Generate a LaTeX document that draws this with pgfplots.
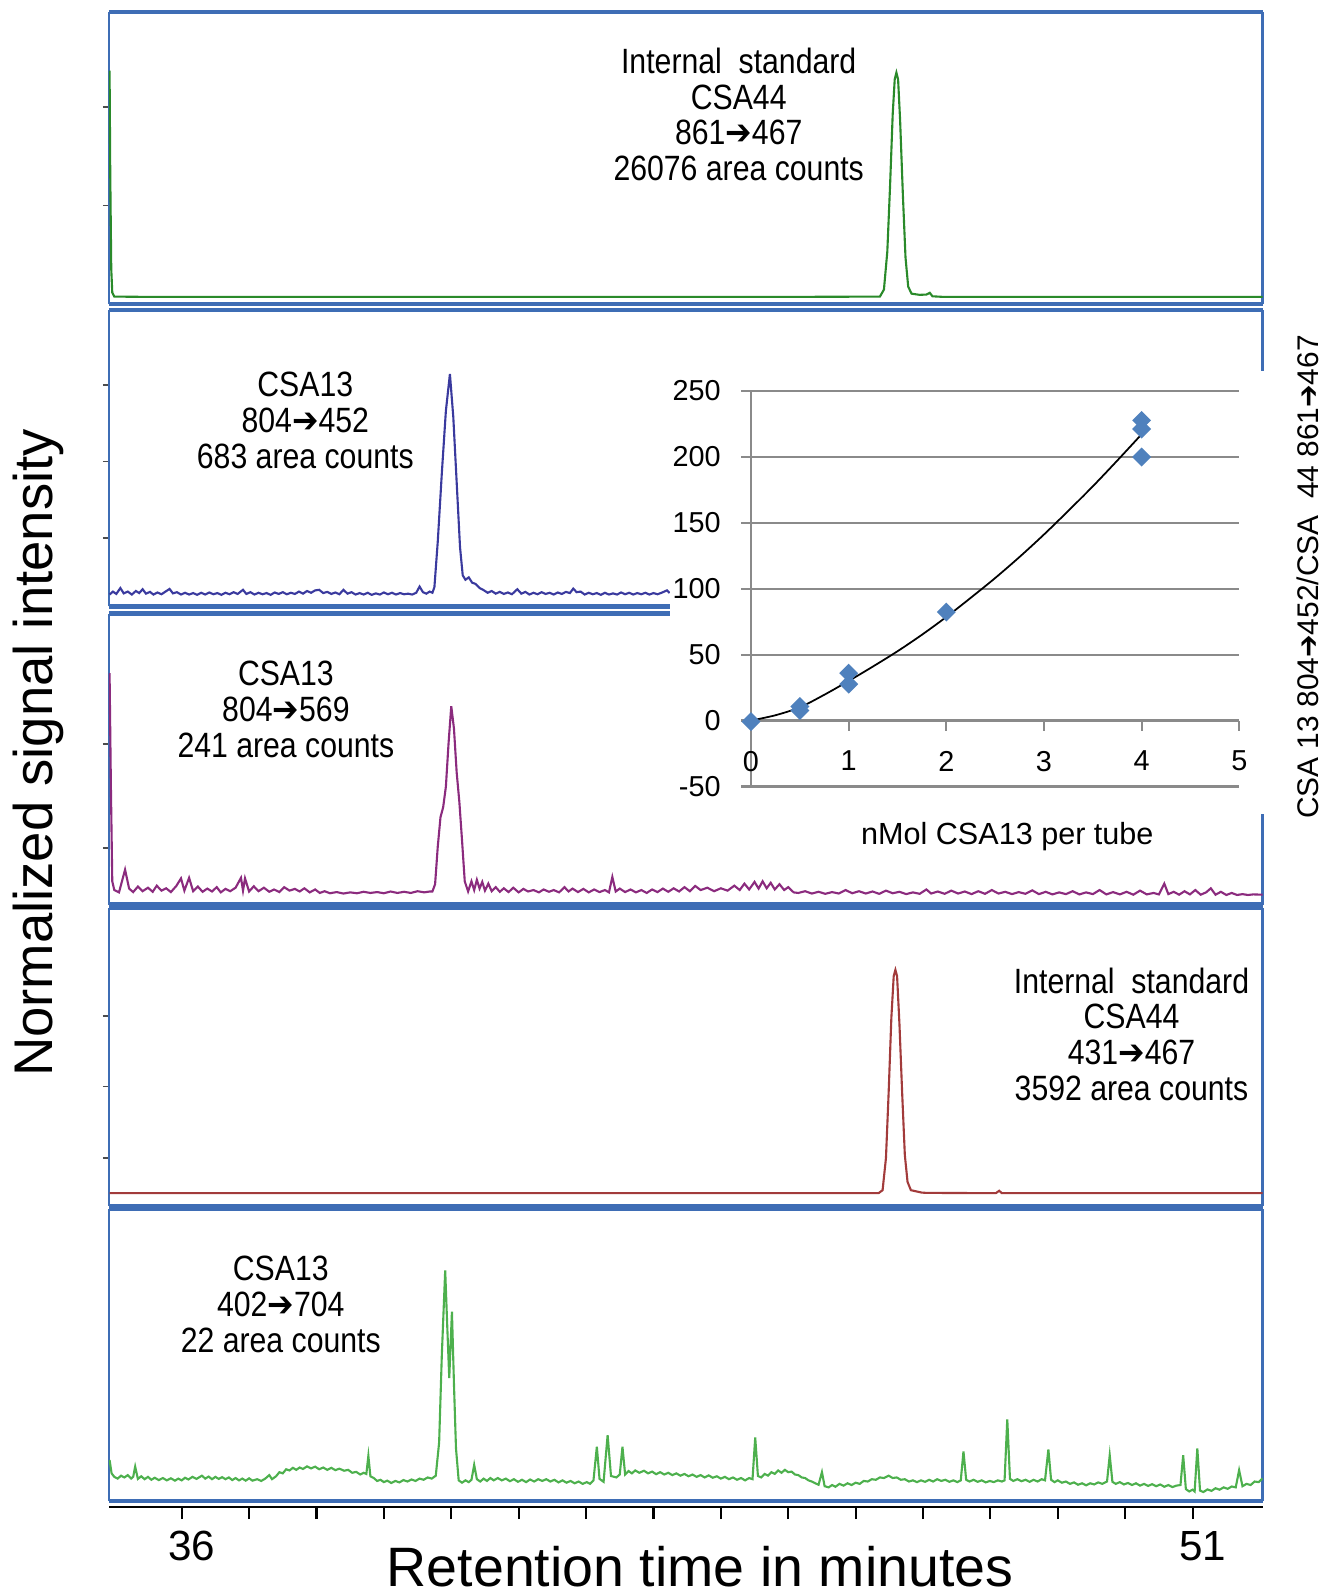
\documentclass[border=0pt]{standalone}
\usepackage{fontspec}
\setmainfont{Liberation Sans}
\newfontfamily\narrow[FakeStretch=0.86]{Liberation Sans}
\newfontfamily\sym[FakeStretch=0.9]{DejaVu Sans}
\usepackage{pgfplots}
\pgfplotsset{compat=1.18}

\definecolor{bordercol}{HTML}{3E6DB5}
\definecolor{cA}{HTML}{2A8A2A}
\definecolor{cB}{HTML}{3A3A9E}
\definecolor{cC}{HTML}{8B2B7E}
\definecolor{cD}{HTML}{A23B3B}
\definecolor{cE}{HTML}{4DB04D}
\definecolor{mblue}{HTML}{4F81BD}
\definecolor{gridgray}{HTML}{8A8A8A}

\newcommand{\arr}{{\sym ➔}}

\pgfplotsset{
  panel/.style={
    scale only axis, width=115.38mm, anchor=south west,
    xmin=34.92, xmax=52.04, ymin=0, ymax=100,
    xtick=\empty, yticklabels={}, ytick pos=left,
    tick align=outside, major tick length=0.6mm,
    ytick style={black!70, line width=0.5pt},
    separate axis lines,
    x axis line style={bordercol, line width=1.2pt},
    y axis line style={bordercol, line width=0.7pt},
    every axis plot/.append style={line width=0.6pt, mark=none},
  },
}
\tikzset{annot/.style={font=\narrow\fontsize{10}{10.2}\selectfont, align=center}}

\begin{document}
\begin{tikzpicture}
\useasboundingbox (0,0) rectangle (133.6mm,159.6mm);

% panel 1: internal standard 861->467
\begin{axis}[panel, at={(10.89mm,129.18mm)}, height=29.2mm, ytick={33.8,67.5}]
\addplot[cA] coordinates {
(34.93,80) (34.94,45) (34.955,12) (34.97,4) (35.0,2.6) (35.5,2.5) (37,2.5) (39,2.5)
(41,2.5) (43,2.5) (45,2.5) (46.36,2.6) (46.42,5) (46.47,18) (46.51,40) (46.55,65)
(46.58,77) (46.605,79.3) (46.63,77) (46.66,63) (46.70,38) (46.74,16) (46.78,6)
(46.83,3.6) (46.95,3.2) (47.05,3.3) (47.10,3.9) (47.14,2.7) (47.3,2.5) (52.04,2.5)};
\end{axis}

% panel 2: CSA13 804->452
\begin{axis}[panel, at={(10.89mm,98.96mm)}, height=29.61mm, ytick={23,48.9,74.8}]
\addplot[cB] coordinates {
(34.93,4.0) (34.98,5.0) (35.03,4.2) (35.09,6.2) (35.14,4.4) (35.20,5.0) (35.26,4.0)
(35.32,5.2) (35.37,4.5) (35.42,5.8) (35.47,4.3) (35.53,4.9) (35.58,4.0) (35.64,4.7)
(35.70,4.1) (35.76,5.0) (35.82,5.9) (35.87,4.4) (35.93,4.8) (35.99,4.0) (36.05,4.6)
(36.11,4.0) (36.17,4.5) (36.23,3.9) (36.29,4.6) (36.35,4.0) (36.41,4.7) (36.47,4.1)
(36.53,4.5) (36.59,3.9) (36.65,4.6) (36.71,4.1) (36.77,4.8) (36.83,4.2) (36.91,5.6)
(36.96,4.2) (37.02,4.8) (37.08,4.0) (37.14,4.6) (37.20,4.1) (37.26,4.5) (37.32,3.9)
(37.38,4.7) (37.44,4.2) (37.50,4.8) (37.56,4.1) (37.62,4.6) (37.68,4.2) (37.74,5.0)
(37.80,4.3) (37.86,5.2) (37.92,4.6) (37.98,5.4) (38.04,5.6) (38.10,4.5) (38.16,4.9)
(38.22,4.2) (38.28,4.7) (38.34,4.1) (38.40,5.6) (38.46,4.3) (38.52,4.8) (38.58,4.0)
(38.64,4.5) (38.70,4.0) (38.76,4.6) (38.82,3.9) (38.88,4.4) (38.94,4.0) (39.00,4.7)
(39.06,4.1) (39.12,4.6) (39.18,4.0) (39.24,4.5) (39.30,4.1) (39.36,4.3) (39.42,4.0)
(39.48,4.6) (39.53,6.7) (39.58,4.8) (39.63,4.3) (39.68,5.0) (39.72,4.6) (39.75,6.5)
(39.80,22) (39.86,45) (39.92,66) (39.98,78.5) (40.03,64) (40.08,42) (40.13,20)
(40.17,10.5) (40.21,9.0) (40.26,9.8) (40.31,8.0) (40.36,7.6) (40.42,6.2) (40.48,5.5)
(40.54,4.6) (40.60,5.2) (40.66,4.3) (40.72,4.9) (40.78,4.2) (40.84,4.7) (40.90,4.1)
(40.98,5.8) (41.04,4.3) (41.10,4.9) (41.16,4.0) (41.22,4.6) (41.28,4.1) (41.34,4.8)
(41.40,4.2) (41.46,4.6) (41.52,4.0) (41.58,4.7) (41.64,4.2) (41.70,4.9) (41.76,4.5)
(41.81,6.0) (41.86,4.8) (41.92,5.0) (41.98,4.0) (42.04,4.6) (42.10,4.1) (42.16,4.5)
(42.22,3.9) (42.28,4.6) (42.34,4.0) (42.40,4.4) (42.46,4.0) (42.52,4.7) (42.58,4.1)
(42.64,4.6) (42.70,4.0) (42.76,4.5) (42.82,4.1) (42.88,4.6) (42.94,4.0) (43.00,4.5)
(43.06,4.1) (43.12,4.6) (43.20,5.4) (43.24,4.5)};
\end{axis}

% panel 3: CSA13 804->569
\begin{axis}[panel, at={(10.89mm,69.14mm)}, height=29.1mm, ytick={19.5,55.2}]
\addplot[cC] coordinates {
(34.93,79.5) (34.95,40) (34.97,8) (35.00,5.0) (35.07,4.2) (35.16,12.0) (35.22,5.5)
(35.28,4.3) (35.35,6.2) (35.42,4.6) (35.50,5.8) (35.57,4.4) (35.63,6.5) (35.70,4.8)
(35.77,5.6) (35.84,4.3) (35.92,6.4) (35.99,9.0) (36.04,4.8) (36.11,9.2) (36.17,4.6)
(36.24,6.2) (36.31,4.4) (36.38,5.5) (36.45,4.5) (36.52,6.0) (36.58,4.2) (36.65,5.4)
(36.72,4.6) (36.80,5.8) (36.88,9.2) (36.91,4.8) (36.94,9.0) (37.00,4.5) (37.07,6.3)
(37.14,4.6) (37.22,5.8) (37.30,4.4) (37.37,5.2) (37.45,4.3) (37.52,6.0) (37.60,4.8)
(37.68,5.4) (37.75,4.5) (37.82,5.6) (37.90,4.2) (37.98,5.2) (38.05,4.0) (38.12,4.6)
(38.20,3.9) (38.30,4.3) (38.40,3.8) (38.50,4.2) (38.60,3.9) (38.70,4.4) (38.80,4.0)
(38.90,4.3) (39.00,3.9) (39.10,4.5) (39.20,4.0) (39.30,4.4) (39.40,4.0) (39.50,4.6)
(39.60,4.2) (39.68,4.5) (39.72,4.5) (39.76,7) (39.80,20) (39.84,30) (39.88,33.5)
(39.92,40.5) (39.96,55.5) (40.00,68.2) (40.04,60.5) (40.08,45.5) (40.12,35.3) (40.16,22)
(40.20,8) (40.25,4.5) (40.30,8.0) (40.34,5.0) (40.38,8.5) (40.42,5.5) (40.46,7.8)
(40.50,4.8) (40.55,7.2) (40.60,4.6) (40.66,6.0) (40.72,4.4) (40.78,5.6) (40.85,4.3)
(40.92,5.8) (41.00,4.2) (41.07,5.4) (41.14,4.5) (41.22,5.0) (41.30,4.2) (41.37,5.2)
(41.45,4.4) (41.52,5.0) (41.60,4.2) (41.68,6.0) (41.74,4.5) (41.80,5.5) (41.88,4.3)
(41.96,5.4) (42.04,4.2) (42.12,5.2) (42.20,4.3) (42.28,5.0) (42.34,4.2) (42.39,9.5)
(42.44,4.5) (42.50,5.5) (42.58,4.3) (42.66,5.2) (42.74,4.2) (42.82,5.0) (42.90,4.0)
(42.98,5.2) (43.06,4.3) (43.14,5.5) (43.22,4.4) (43.30,5.6) (43.38,4.5) (43.46,6.0)
(43.54,4.6) (43.62,6.4) (43.70,5.0) (43.80,5.8) (43.90,4.6) (44.00,5.6) (44.10,4.8)
(44.20,6.5) (44.28,5.0) (44.35,7.2) (44.42,5.2) (44.50,7.8) (44.56,5.5) (44.62,8.0)
(44.68,5.6) (44.74,7.5) (44.80,5.2) (44.87,7.0) (44.94,5.0) (45.00,6.0) (45.08,4.2)
(45.15,4.0) (45.25,4.6) (45.35,3.8) (45.45,4.4) (45.55,3.7) (45.65,4.3) (45.75,3.8)
(45.85,5.0) (45.95,3.9) (46.05,4.6) (46.15,3.8) (46.25,4.5) (46.35,3.7) (46.45,4.8)
(46.55,3.9) (46.65,4.4) (46.75,3.6) (46.85,4.2) (46.95,3.7) (47.05,5.2) (47.12,3.8)
(47.22,4.5) (47.32,3.7) (47.42,4.8) (47.52,3.8) (47.62,4.5) (47.72,3.6) (47.82,4.6)
(47.92,3.7) (48.02,5.0) (48.12,3.8) (48.22,4.4) (48.32,3.6) (48.42,4.3) (48.52,3.7)
(48.62,4.9) (48.72,3.6) (48.82,4.4) (48.92,3.5) (49.02,4.2) (49.12,3.6) (49.22,4.6)
(49.32,3.5) (49.42,4.2) (49.52,3.6) (49.62,5.0) (49.72,3.5) (49.82,4.3) (49.92,3.5)
(50.02,4.4) (50.12,3.4) (50.22,4.8) (50.32,3.5) (50.42,4.0) (50.50,3.5) (50.58,7.2)
(50.64,3.6) (50.72,4.4) (50.80,3.4) (50.88,4.6) (50.96,3.5) (51.04,5.0) (51.12,3.4)
(51.20,4.2) (51.27,5.6) (51.34,3.4) (51.42,4.4) (51.50,3.3) (51.58,4.0) (51.66,3.3)
(51.74,3.6) (51.82,3.3) (51.90,3.5) (52.04,3.4)};
\end{axis}

% panel 4: internal standard 431->467
\begin{axis}[panel, at={(10.89mm,39.03mm)}, height=29.81mm, ytick={16,40,63.7}]
\addplot[cD] coordinates {
(34.93,4.2) (38,4.2) (42,4.2) (46.34,4.2) (46.40,5.2) (46.45,16) (46.49,38) (46.53,63)
(46.565,77) (46.59,79.1) (46.615,77) (46.65,61) (46.69,38) (46.73,17) (46.77,8)
(46.82,5.2) (46.90,4.8) (46.98,4.4) (47.05,4.3) (48.08,4.2) (48.13,5.0) (48.17,4.2)
(50,4.2) (52.04,4.2)};
\end{axis}

% panel 5: CSA13 402->704
\begin{axis}[panel, at={(10.89mm,9.52mm)}, height=29.2mm, ytick=\empty]
\addplot[cE] coordinates {
(34.93,14) (34.96,9.4) (35.00,8.2) (35.05,7.6) (35.10,8.6) (35.15,8.0) (35.20,8.8)
(35.25,7.6) (35.28,8.2) (35.31,11.7) (35.35,7.5) (35.40,8.4) (35.45,7.4) (35.50,8.2)
(35.55,7.2) (35.60,7.9) (35.66,7.1) (35.72,7.8) (35.78,7.0) (35.84,7.7) (35.90,6.9)
(35.95,7.6) (36.00,7.0) (36.05,7.9) (36.10,7.3) (36.16,8.2) (36.22,7.5) (36.30,8.6)
(36.35,7.6) (36.40,8.3) (36.45,7.4) (36.50,8.2) (36.55,7.5) (36.60,8.1) (36.65,7.4)
(36.70,8.0) (36.75,7.1) (36.80,7.8) (36.85,7.0) (36.90,7.6) (36.95,6.9) (37.00,7.7)
(37.05,6.9) (37.12,7.4) (37.18,6.8) (37.24,7.6) (37.30,8.8) (37.34,7.4) (37.40,8.4)
(37.45,9.8) (37.50,9.4) (37.55,10.8) (37.60,10.4) (37.65,11.3) (37.70,10.6)
(37.75,11.4) (37.80,10.9) (37.86,11.8) (37.92,11.1) (37.98,11.7) (38.04,10.8)
(38.10,11.4) (38.16,10.6) (38.22,11.3) (38.28,10.5) (38.34,11.0) (38.41,10.3)
(38.47,10.6) (38.53,9.6) (38.59,9.9) (38.65,9.0) (38.70,9.6) (38.74,9.2) (38.77,15.4)
(38.80,8.4) (38.85,7.8) (38.90,6.8) (38.95,7.2) (39.00,6.4) (39.05,6.9) (39.11,6.1)
(39.17,6.8) (39.23,6.3) (39.29,7.1) (39.35,6.6) (39.41,7.3) (39.47,6.8) (39.53,7.6)
(39.59,7.2) (39.65,8.0) (39.71,7.6) (39.77,8.6) (39.82,20) (39.86,50) (39.91,78.9)
(39.94,60) (39.97,42) (40.01,64.8) (40.04,40) (40.07,18) (40.11,7.0) (40.16,6.2)
(40.21,7.0) (40.26,6.4) (40.30,7.2) (40.34,12.3) (40.38,7.4) (40.43,6.6) (40.48,7.6)
(40.53,6.8) (40.58,7.8) (40.63,7.0) (40.69,7.8) (40.75,7.0) (40.81,7.6) (40.87,6.7)
(40.93,7.4) (40.99,6.5) (41.05,7.2) (41.11,6.4) (41.17,7.3) (41.23,6.6) (41.29,7.4)
(41.35,6.8) (41.41,7.4) (41.47,6.6) (41.53,7.2) (41.59,6.3) (41.65,7.0) (41.71,6.2)
(41.77,6.8) (41.83,6.0) (41.89,6.6) (41.95,5.8) (42.01,6.4) (42.06,5.8) (42.11,7.0)
(42.16,18.5) (42.20,7.5) (42.26,6.5) (42.32,22.5) (42.37,8.5) (42.45,8.0) (42.50,9.0)
(42.54,18.5) (42.58,9.0) (42.63,10.2) (42.68,9.4) (42.73,10.4) (42.79,9.6) (42.86,10.3)
(42.92,9.4) (42.98,10.0) (43.04,9.1) (43.10,9.8) (43.16,9.0) (43.22,9.6) (43.28,8.8)
(43.34,9.4) (43.40,8.6) (43.46,9.2) (43.52,8.4) (43.58,9.0) (43.64,8.2) (43.70,8.8)
(43.76,8.0) (43.82,8.7) (43.88,7.9) (43.94,8.4) (44.00,7.6) (44.06,8.2) (44.12,7.4)
(44.18,8.0) (44.24,7.2) (44.30,7.8) (44.36,7.0) (44.42,7.8) (44.47,7.4) (44.51,21.7)
(44.55,8.5) (44.60,8.0) (44.65,9.2) (44.70,8.6) (44.75,9.8) (44.80,9.2) (44.85,10.4)
(44.90,9.6) (44.95,10.6) (45.00,9.8) (45.05,10.0) (45.10,9.0) (45.15,8.8) (45.20,8.0)
(45.25,7.8) (45.30,7.0) (45.35,6.6) (45.40,6.0) (45.45,5.5) (45.50,9.8) (45.54,5.0)
(45.60,4.6) (45.65,5.4) (45.70,4.8) (45.76,5.8) (45.82,5.2) (45.88,6.0) (45.94,5.4)
(46.00,6.2) (46.06,5.8) (46.12,6.8) (46.18,6.6) (46.24,7.4) (46.30,7.2) (46.36,8.0)
(46.42,7.8) (46.49,8.6) (46.55,7.8) (46.61,8.0) (46.67,7.2) (46.73,7.4) (46.79,6.6)
(46.85,7.0) (46.91,6.4) (46.97,7.0) (47.03,6.5) (47.09,7.2) (47.15,6.6) (47.21,7.4)
(47.27,6.8) (47.33,7.2) (47.39,6.5) (47.45,7.0) (47.51,6.4) (47.56,7.0) (47.60,16.9)
(47.64,7.2) (47.69,6.6) (47.75,7.2) (47.81,6.5) (47.87,7.0) (47.93,6.3) (47.99,6.8)
(48.05,6.4) (48.11,7.0) (48.17,6.6) (48.21,7.0) (48.25,27.9) (48.29,7.5) (48.34,6.8)
(48.40,7.4) (48.46,6.7) (48.52,7.2) (48.58,6.5) (48.64,7.2) (48.70,6.6) (48.76,7.4)
(48.81,7.0) (48.86,17.6) (48.90,7.2) (48.95,6.4) (49.00,7.0) (49.06,6.2) (49.12,6.6)
(49.18,5.8) (49.24,6.3) (49.30,5.5) (49.36,6.0) (49.42,5.3) (49.48,6.0) (49.54,5.6)
(49.60,6.3) (49.66,5.8) (49.73,6.6) (49.77,15.6) (49.81,6.5) (49.86,5.8) (49.92,6.4)
(49.98,5.6) (50.04,6.1) (50.10,5.4) (50.16,6.0) (50.22,5.2) (50.28,5.8) (50.34,5.1)
(50.40,5.7) (50.46,5.0) (50.52,5.6) (50.58,4.8) (50.64,5.4) (50.70,4.7) (50.76,5.2)
(50.82,5.4) (50.86,15.6) (50.90,4.0) (50.95,3.2) (51.00,3.8) (51.03,3.2) (51.07,17.9)
(51.11,3.5) (51.16,3.0) (51.22,3.9) (51.28,3.4) (51.34,4.3) (51.40,3.8) (51.46,4.6)
(51.52,4.1) (51.58,4.9) (51.64,4.6) (51.69,10.5) (51.74,5.0) (51.80,5.8) (51.86,5.4)
(51.92,6.6) (51.98,6.4) (52.04,7.7)};
\end{axis}

% bottom time axis
\begin{axis}[scale only axis, width=115.38mm, height=5mm, at={(10.89mm,8.9mm)},
  anchor=south west, xmin=34.92, xmax=52.04, ymin=0, ymax=1,
  hide y axis, axis x line*=bottom,
  xtick={36,...,51}, xticklabels={36,,,,,,,,,,,,,,,51},
  tick align=outside, major tick length=1.2mm,
  x axis line style={black, line width=0.8pt},
  xtick style={black, line width=0.6pt},
  xticklabel style={font=\fontsize{12}{12}\selectfont, xshift=1mm}]
\end{axis}

% white background of the calibration inset
\fill[white] (66.95mm,78.2mm) rectangle (127.7mm,122.5mm);

% calibration inset
\begin{axis}[scale only axis, at={(75.1mm,80.95mm)}, anchor=south west,
  width=48.83mm, height=39.58mm,
  xmin=0, xmax=5, ymin=-50, ymax=250,
  axis x line*=middle, axis y line*=left,
  axis line style={gridgray, line width=0.6pt},
  xtick={0,...,5}, ytick={-50,0,...,250},
  ymajorgrids, grid style={gridgray, line width=0.6pt},
  tick align=outside, major tick length=1mm,
  tick style={gridgray, line width=0.6pt},
  hide obscured x ticks=false, hide obscured y ticks=false,
  ticklabel style={font=\fontsize{8.2}{9}\selectfont},
  /pgf/number format/assume math mode=true,
  xticklabel style={yshift=-0.8mm},
  yticklabel style={xshift=-0.8mm},
  clip=false,
  xlabel={nMol CSA13 per tube},
  xlabel style={at={(axis description cs:0.525,-0.126)}, anchor=center,
    font=\fontsize{8.7}{9}\selectfont}]
\addplot[only marks, mark=square*, mark size=0.6mm,
  mark options={rotate=45, fill=mblue, draw=mblue}] coordinates {
(0,-0.8) (0.5,7.6) (0.5,10.6) (1,27.6) (1,35.9) (2,82.2) (4,199.7) (4,220.9) (4,227.5)};
\addplot[black, line width=0.5pt, smooth, mark=none] coordinates {
(0,0) (0.25,4) (0.5,10) (0.75,19.5) (1,30) (1.25,41) (1.5,52.5) (1.75,65) (2,78.5)
(2.25,93) (2.5,108) (2.75,124) (3,141) (3.25,159) (3.5,177.5) (3.75,197) (4,217)};
\end{axis}

% annotations
\node[annot] at (73.87mm,148.15mm) {Internal\ \ standard\\CSA44\\861\arr467\\26076 area counts};
\node[annot] at (30.53mm,117.53mm) {CSA13\\804\arr452\\683 area counts};
\node[annot] at (28.59mm,88.68mm) {CSA13\\804\arr569\\241 area counts};
\node[annot] at (113.15mm,56.17mm) {Internal\ \ standard\\CSA44\\431\arr467\\3592 area counts};
\node[annot] at (28.08mm,29.16mm) {CSA13\\402\arr704\\22 area counts};

% axis titles
\node[rotate=90, font=\fontsize{15.5}{16}\selectfont] at (3.87mm,84.3mm) {Normalized signal intensity};
\node[font=\fontsize{15.8}{16}\selectfont] at (70.0mm,2.9mm) {Retention time in minutes};
\node[rotate=90, font=\fontsize{8.5}{9}\selectfont] at (130.75mm,101.9mm) {CSA 13 804\arr452/CSA\ \ 44 861\arr467};
\end{tikzpicture}
\end{document}
